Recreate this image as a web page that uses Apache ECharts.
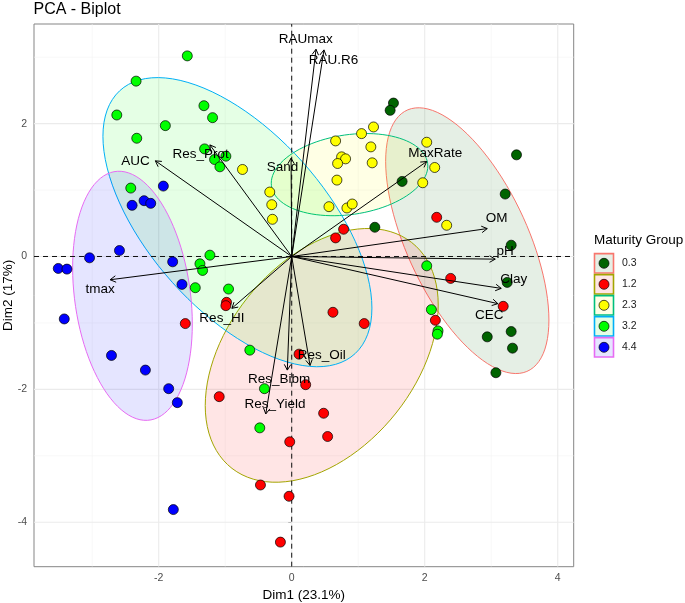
<!DOCTYPE html>
<html><head><meta charset="utf-8">
<script src="https://cdn.jsdelivr.net/npm/echarts@6/dist/echarts.min.js"></script>
<style>html,body{margin:0;padding:0;background:#fff}#c{width:685px;height:603px}</style>
</head><body><div id="c"></div>
<script>
// ---- data ----
const groups = ['0.3', '1.2', '2.3', '3.2', '4.4'];
const pointFill = ['#006400', '#FF0000', '#FFFF00', '#00FF00', '#0000FF'];
const ellipseColor = ['#F8766D', '#A3A500', '#00BF7D', '#00B0F6', '#E76BF3'];

const g03 = [[1.53,2.31],[1.48,2.20],[1.66,1.13],[3.38,1.53],[3.21,0.94],[3.30,0.17],[1.25,0.44],[3.24,-0.39],[3.30,-1.13],[2.94,-1.21],[3.32,-1.38],[3.07,-1.75]];
const g12 = [[0.78,0.41],[0.66,0.28],[0.62,-0.84],[1.09,-1.01],[0.11,-1.47],[-0.98,-0.69],[-0.99,-0.74],[-1.60,-1.01],[0.21,-1.93],[-1.09,-2.11],[0.48,-2.36],[0.54,-2.71],[-0.03,-2.79],[-0.47,-3.44],[-0.04,-3.61],[-0.17,-4.30],[2.18,0.59],[2.39,-0.33],[2.16,-0.96],[3.18,-0.75]];
const g23 = [[1.23,1.95],[1.05,1.85],[0.66,1.74],[1.19,1.65],[0.75,1.50],[0.81,1.47],[0.69,1.40],[1.21,1.41],[0.68,1.15],[-0.74,1.31],[-0.33,0.97],[-0.30,0.78],[-0.29,0.56],[0.56,0.75],[0.83,0.73],[0.91,0.79],[2.03,1.72],[2.15,1.34],[1.97,1.11],[2.33,0.47]];
const g32 = [[-1.57,3.02],[-2.34,2.64],[-1.32,2.27],[-1.19,2.09],[-2.63,2.13],[-1.90,1.97],[-2.33,1.78],[-1.31,1.62],[-1.16,1.46],[-0.99,1.51],[-1.08,1.35],[-2.42,1.03],[-1.23,0.02],[-1.38,-0.11],[-1.34,-0.21],[-1.45,-0.47],[-0.95,-0.49],[-0.63,-1.41],[-0.41,-1.99],[-0.48,-2.58],[2.03,-0.14],[2.10,-0.80],[2.20,-1.12],[2.19,-1.17]];
const g44 = [[-1.93,1.06],[-2.40,0.77],[-2.22,0.84],[-2.12,0.80],[-3.04,-0.02],[-2.59,0.09],[-3.51,-0.18],[-3.38,-0.19],[-1.79,-0.08],[-1.65,-0.42],[-3.42,-0.94],[-2.71,-1.49],[-2.20,-1.71],[-1.85,-1.99],[-1.72,-2.20],[-1.78,-3.81]];
const groupPoints = [g03, g12, g23, g32, g44];

const varNames = ['RAUmax','RAU.R6','Sand','AUC','Res_Prot','MaxRate','OM','pH','Clay','CEC','tmax','Res_HI','Res_Oil','Res_Bibm','Res_Yield'];
const varTips = [[0.365,3.12],[0.485,3.11],[-0.01,1.48],[-2.05,1.44],[-1.23,1.68],[2.03,1.43],[2.94,0.42],[3.06,-0.04],[3.15,-0.48],[3.10,-0.71],[-2.73,-0.35],[-0.90,-0.78],[0.275,-1.64],[-0.066,-1.71],[-0.39,-2.37]];
const varLabelPos = [[0.21,3.27],[0.63,2.96],[-0.14,1.35],[-2.35,1.44],[-1.37,1.54],[2.16,1.56],[3.08,0.57],[3.21,0.075],[3.34,-0.34],[2.97,-0.88],[-2.88,-0.50],[-1.05,-0.93],[0.45,-1.49],[-0.19,-1.85],[-0.25,-2.23]];

const xTicks = [-2, 0, 2, 4];
const yTicks = [-4, -2, 0, 2];
const xMinor = [-3, -1, 1, 3];
const yMinor = [-3, -1, 1, 3];
const ellipseLevel = 0.6;

// ---- helpers ----
const X_MIN = -3.875, X_MAX = 4.24, Y_MIN = -4.67, Y_MAX = 3.50;
function hexA(hex, a) {
  const n = parseInt(hex.slice(1), 16);
  return 'rgba(' + ((n >> 16) & 255) + ',' + ((n >> 8) & 255) + ',' + (n & 255) + ',' + a + ')';
}
function ellipsePts(pts, level, seg) {
  const n = pts.length;
  let mx = 0, my = 0;
  pts.forEach(p => { mx += p[0]; my += p[1]; });
  mx /= n; my /= n;
  let sxx = 0, sxy = 0, syy = 0;
  pts.forEach(p => { const dx = p[0]-mx, dy = p[1]-my; sxx += dx*dx; sxy += dx*dy; syy += dy*dy; });
  sxx /= (n-1); sxy /= (n-1); syy /= (n-1);
  const r11 = Math.sqrt(sxx), r12 = sxy / r11, r22 = Math.sqrt(syy - r12*r12);
  const dfd = n - 1;
  const q = (dfd/2) * (Math.pow(1 - level, -2/dfd) - 1);
  const rad = Math.sqrt(2 * q);
  const out = [];
  for (let k = 0; k <= seg; k++) {
    const a = k * 2 * Math.PI / seg, c = Math.cos(a), s = Math.sin(a);
    out.push([mx + rad * c * r11, my + rad * (c * r12 + s * r22)]);
  }
  return {center: [mx, my], pts: out};
}
const ellipses = groupPoints.map(p => ellipsePts(p, ellipseLevel, 100));

const FONT = 'Liberation Sans, Arial, Helvetica, sans-serif';

// gridline items: [value, orientation(0=vertical,1=horizontal), major(1)/minor(0)]
const gridItems = [];
xMinor.forEach(v => gridItems.push([v, 0, 0]));
yMinor.forEach(v => gridItems.push([v, 1, 0]));
xTicks.forEach(v => gridItems.push([v, 0, 1]));
yTicks.forEach(v => gridItems.push([v, 1, 1]));

const series = [];
series.push({
  type: 'custom', z: 1, silent: true, clip: true,
  data: gridItems.map(g => [g[1] === 0 ? g[0] : 0, g[1] === 1 ? g[0] : 0, g[1], g[2]]),
  encode: {x: 0, y: 1},
  renderItem: function (params, api) {
    const v = api.value(api.value(2) === 0 ? 0 : 1);
    const vert = api.value(2) === 0;
    const major = api.value(3) === 1;
    const p1 = vert ? api.coord([v, Y_MIN]) : api.coord([X_MIN, v]);
    const p2 = vert ? api.coord([v, Y_MAX]) : api.coord([X_MAX, v]);
    return {type: 'line', shape: {x1: p1[0], y1: p1[1], x2: p2[0], y2: p2[1]},
      style: {stroke: major ? '#EBEBEB' : '#F3F3F3', lineWidth: major ? 1.1 : 0.6}};
  }
});
// ellipses
series.push({
  type: 'custom', z: 2, silent: true,
  data: ellipses.map((e, i) => [e.center[0], e.center[1], i]),
  encode: {x: 0, y: 1},
  renderItem: function (params, api) {
    const i = api.value(2);
    const pts = ellipses[i].pts.map(p => api.coord(p));
    return {type: 'polygon', shape: {points: pts},
      style: {fill: hexA(pointFill[i], 0.1), stroke: ellipseColor[i], lineWidth: 1}};
  }
});
// dashed zero lines
series.push({
  type: 'custom', z: 3, silent: true,
  data: [[0, 0, 0], [0, 0, 1]],
  encode: {x: 0, y: 1},
  renderItem: function (params, api) {
    const vert = api.value(2) === 0;
    const p1 = vert ? api.coord([0, Y_MIN]) : api.coord([X_MIN, 0]);
    const p2 = vert ? api.coord([0, Y_MAX]) : api.coord([X_MAX, 0]);
    return {type: 'line', shape: {x1: p1[0], y1: p1[1], x2: p2[0], y2: p2[1]},
      style: {stroke: '#111', lineWidth: 1, lineDash: [5, 4]}};
  }
});
// points
groups.forEach((g, i) => {
  series.push({
    type: 'scatter', name: g, z: 4, symbolSize: 10,
    data: groupPoints[i],
    itemStyle: {color: pointFill[i], borderColor: '#000', borderWidth: 0.7, opacity: 1}
  });
});
// arrows
series.push({
  type: 'custom', z: 5, silent: true, clip: false,
  data: varTips.map((t, i) => [t[0], t[1], i]),
  encode: {x: 0, y: 1},
  renderItem: function (params, api) {
    const p0 = api.coord([0, 0]);
    const p1 = api.coord([api.value(0), api.value(1)]);
    const ang = Math.atan2(p1[1] - p0[1], p1[0] - p0[0]);
    const L = 6.5, A = Math.PI / 6;
    const h1 = [p1[0] - L * Math.cos(ang - A), p1[1] - L * Math.sin(ang - A)];
    const h2 = [p1[0] - L * Math.cos(ang + A), p1[1] - L * Math.sin(ang + A)];
    return {type: 'group', children: [
      {type: 'line', shape: {x1: p0[0], y1: p0[1], x2: p1[0], y2: p1[1]}, style: {stroke: '#000', lineWidth: 1}},
      {type: 'polyline', shape: {points: [h1, p1, h2]}, style: {stroke: '#000', lineWidth: 1, fill: null}}
    ]};
  }
});
// variable labels
series.push({
  type: 'custom', z: 6, silent: true, clip: false,
  data: varLabelPos.map((t, i) => [t[0], t[1], i]),
  encode: {x: 0, y: 1},
  renderItem: function (params, api) {
    const p = api.coord([api.value(0), api.value(1)]);
    return {type: 'text', x: p[0], y: p[1],
      style: {text: varNames[api.value(2)], fill: '#000', font: '13.5px ' + FONT, align: 'center', verticalAlign: 'middle'}};
  }
});

// legend graphics
const graphics = [];
graphics.push({type: 'text', left: 33.5, top: 2, style: {text: 'PCA - Biplot', fill: '#000', font: '16px ' + FONT}});
graphics.push({type: 'text', x: 8.5, y: 295.3, rotation: Math.PI / 2,
  style: {text: 'Dim2 (17%)', fill: '#000', font: '13.5px ' + FONT, align: 'center', verticalAlign: 'middle'}});
graphics.push({type: 'text', x: 594, y: 240.5, style: {text: 'Maturity Group', fill: '#000', font: '13.5px ' + FONT, verticalAlign: 'middle'}});
groups.forEach((g, i) => {
  const cy = 263.3 + 21 * i;
  graphics.push({type: 'rect', shape: {x: 594.5, y: cy - 9.7, width: 19, height: 19.4},
    style: {fill: hexA(pointFill[i], 0.1), stroke: ellipseColor[i], lineWidth: 1.6}});
  graphics.push({type: 'circle', shape: {cx: 604, cy: cy, r: 5},
    style: {fill: pointFill[i], stroke: '#000', lineWidth: 0.7}});
  graphics.push({type: 'text', x: 622, y: cy, style: {text: g, fill: '#1A1A1A', font: '10.5px ' + FONT, verticalAlign: 'middle'}});
});

const chart = echarts.init(document.getElementById('c'), null, {renderer: 'canvas'});
chart.setOption({
  animation: false,
  backgroundColor: '#fff',
  grid: {left: 34, top: 24, right: 111.3, bottom: 36.3, outerBoundsMode: 'none', containLabel: false, show: true, borderColor: '#858585', borderWidth: 1, backgroundColor: 'transparent'},
  xAxis: {
    type: 'value', min: X_MIN, max: X_MAX,
    name: 'Dim1 (23.1%)', nameLocation: 'middle', nameGap: 18.5,
    nameTextStyle: {color: '#000', fontSize: 13.5, fontFamily: FONT},
    axisLine: {show: false},
    axisTick: {show: true, customValues: xTicks, length: 3.5, lineStyle: {color: '#333', width: 1}},
    axisLabel: {customValues: xTicks, color: '#4D4D4D', fontSize: 10.5, fontFamily: FONT, margin: 6},
    splitLine: {show: false}
  },
  yAxis: {
    type: 'value', min: Y_MIN, max: Y_MAX,
    axisLine: {show: false},
    axisTick: {show: true, customValues: yTicks, length: 3.5, lineStyle: {color: '#333', width: 1}},
    axisLabel: {customValues: yTicks, color: '#4D4D4D', fontSize: 10.5, fontFamily: FONT, margin: 7},
    splitLine: {show: false}
  },
  graphic: graphics,
  series: series
});
</script></body></html>
